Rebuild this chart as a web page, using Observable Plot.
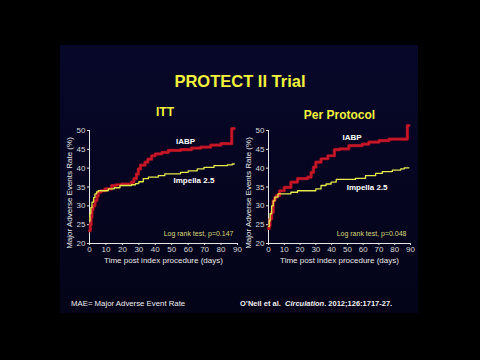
<!DOCTYPE html>
<html>
<head>
<meta charset="utf-8">
<script src="https://cdn.jsdelivr.net/npm/d3@7"></script>
<script src="https://cdn.jsdelivr.net/npm/@observablehq/plot@0.6"></script>
<style>
  html, body { margin: 0; padding: 0; background: #000; width: 480px; height: 360px; overflow: hidden; }
  body { position: relative; font-family: "Liberation Sans", Arial, sans-serif; }
  #panel { position: absolute; left: 60px; top: 45px; width: 358px; height: 268px;
           background: linear-gradient(180deg, #07072a 0%, #05051f 60%, #040418 100%); }
  .abs { position: absolute; white-space: nowrap; }
  #title { left: 0; width: 480px; text-align: center; top: 71px; line-height: 20px; font-size: 16.5px; font-weight: bold; color: #f2f23c; }
  .sub { width: 120px; text-align: center; line-height: 14px; font-size: 12px; font-weight: bold; color: #f2f23c; }
  .foot { top: 299px; line-height: 10px; color: #f0f0f0; }
  #c1, #c2 { position: absolute; top: 120px; }
  #c1 { left: 55px; } #c2 { left: 234px; }
</style>
</head>
<body>
<div id="panel"></div>
<div id="title" class="abs">PROTECT II Trial</div>
<div class="abs sub" style="left:105px; top:105px;">ITT</div>
<div class="abs sub" style="left:279.5px; top:108px;">Per Protocol</div>
<div class="abs foot" style="left:71px; font-size:7.8px;">MAE= Major Adverse Event Rate</div>
<div class="abs foot" style="left:240px; font-size:7.5px; font-weight:bold;">O’Neil et al.&nbsp; <i>Circulation</i>. 2012;126:1717-27.</div>
<div id="c1"></div>
<div id="c2"></div>
<script>
// ---- data ----
const xTicks = [0, 10, 20, 30, 40, 50, 60, 70, 80, 90];
const yTicks = [20, 25, 30, 35, 40, 45, 50];
const xLabel = "Time post index procedure (days)";
const yLabel = "Major Adverse Events Rate (%)";

// ITT
const ittIabpDays  = [0, 0.5, 1, 1.5, 2.2, 3.3, 4.5, 5.3, 7, 9.4, 13.4, 16, 19.5, 25.6, 27, 28.5, 29.7, 31, 33.8, 35.5, 37.8, 40, 44, 48, 55.4, 62, 67.6, 73.7, 79.8, 86.5, 88];
const ittIabpRate  = [23.4, 25, 27, 29, 30, 31.4, 32.6, 33.6, 34, 34.5, 35.4, 35.6, 35.8, 36.3, 37.2, 38.4, 39.8, 40.8, 41.6, 42.4, 43.3, 43.8, 44.2, 44.7, 44.9, 45.3, 45.6, 46.1, 46.5, 50.5, 50.5];
const ittImpDays   = [0, 0.3, 0.8, 1.5, 2.5, 3.3, 4.3, 5.3, 11.4, 15, 18.5, 25.6, 28, 30, 32.7, 35.8, 41.8, 45.8, 55.4, 60, 65.5, 69.6, 75.7, 83.8, 86.8, 88];
const ittImpRate   = [26, 28, 29.5, 31, 32.2, 33.2, 33.7, 34, 34.5, 34.8, 35.4, 35.6, 35.9, 36.4, 37.2, 37.6, 38, 38.5, 38.9, 39.3, 39.8, 40.2, 40.7, 40.9, 41.1, 41.1];

// Per Protocol
const ppIabpDays   = [0, 0.5, 1, 2, 3, 4, 5, 7, 10, 14.2, 18.4, 24.8, 27, 28.5, 30, 33.3, 37.6, 41.8, 45, 50.9, 59.4, 63.6, 70, 76.3, 88, 89];
const ppIabpRate   = [24, 24.8, 26.5, 28.3, 31.4, 32.2, 32.7, 34, 34.9, 36.3, 37.2, 37.6, 38.9, 40.3, 41.6, 42.5, 43.3, 44.9, 45.1, 46, 46.4, 46.9, 47.3, 47.7, 51.3, 51.3];
const ppImpDays    = [0, 0.5, 1, 2, 3, 4, 6, 14.2, 18.4, 30, 33.3, 36.5, 39.7, 42.9, 55.1, 61.5, 67.9, 72.1, 78.5, 83.8, 86, 89];
const ppImpRate    = [24.5, 26, 27.9, 30, 31.3, 32.3, 33.2, 33.6, 34, 34.5, 35.4, 35.8, 36.3, 37, 37.3, 38, 38.6, 39.1, 39.5, 39.8, 40.1, 40.1];

const seriesNames = ["IABP", "Impella 2.5"];
const ittLabelX = [58.4, 63.5], ittLabelY = [47.2, 36.7];
const ppLabelX = [53, 62.5],   ppLabelY = [48.2, 34.9];
const ittTest = "Log rank test, p=0.147";
const ppTest = "Log rank test, p=0.048";

const RED = "#c8192b", YEL = "#e6e84c";

function toRows(days, rates) { return days.map((d, i) => ({day: d, rate: rates[i]})); }

function chart(width, iabp, imp, labX, labY, test) {
  const labels = seriesNames.map((n, i) => ({name: n, x: labX[i], y: labY[i]}));
  return Plot.plot({
    width, height: 153,
    marginLeft: 34, marginRight: 10, marginTop: 10, marginBottom: 30,
    style: {background: "transparent", color: "#d8d8d8", fontFamily: "'Liberation Sans', Arial, sans-serif", fontSize: "8px", overflow: "visible"},
    x: {domain: [0, 90]},
    y: {domain: [20, 50]},
    marks: [
      Plot.axisX({ticks: xTicks, tickSize: 2, tickPadding: 1, label: null, stroke: "#ddd"}),
      Plot.axisY({ticks: yTicks, tickSize: 2, tickPadding: 2, label: null, stroke: "#ddd"}),
      Plot.ruleX([0], {stroke: "#e6e6e6", strokeWidth: 1}),
      Plot.ruleY([20], {stroke: "#e6e6e6", strokeWidth: 1}),
      Plot.line(iabp, {x: "day", y: "rate", curve: "step-after", stroke: "#9e0f1e", strokeWidth: 3.2}),
      Plot.line(iabp, {x: "day", y: "rate", curve: "step-after", stroke: RED, strokeWidth: 1.7}),
      Plot.line(imp, {x: "day", y: "rate", curve: "step-after", stroke: YEL, strokeWidth: 1.3}),
      Plot.text(labels, {x: "x", y: "y", text: "name", fill: "#ffffff", fontWeight: "bold", fontSize: 8}),
      Plot.text([test], {frameAnchor: "bottom-right", dy: -8, dx: -4, textAnchor: "end", fill: "#d9d77a", fontSize: 7}),
      Plot.text([xLabel], {frameAnchor: "bottom", dy: 19, fill: "#e8e8e8", fontSize: 8}),
      Plot.text([yLabel], {frameAnchor: "left", textAnchor: "middle", lineAnchor: "middle", rotate: -90, dx: -20, dy: 6, fill: "#e8e8e8", fontSize: 8})
    ]
  });
}

document.getElementById("c1").append(chart(192, toRows(ittIabpDays, ittIabpRate), toRows(ittImpDays, ittImpRate), ittLabelX, ittLabelY, ittTest));
document.getElementById("c2").append(chart(186, toRows(ppIabpDays, ppIabpRate), toRows(ppImpDays, ppImpRate), ppLabelX, ppLabelY, ppTest));
</script>
</body>
</html>
